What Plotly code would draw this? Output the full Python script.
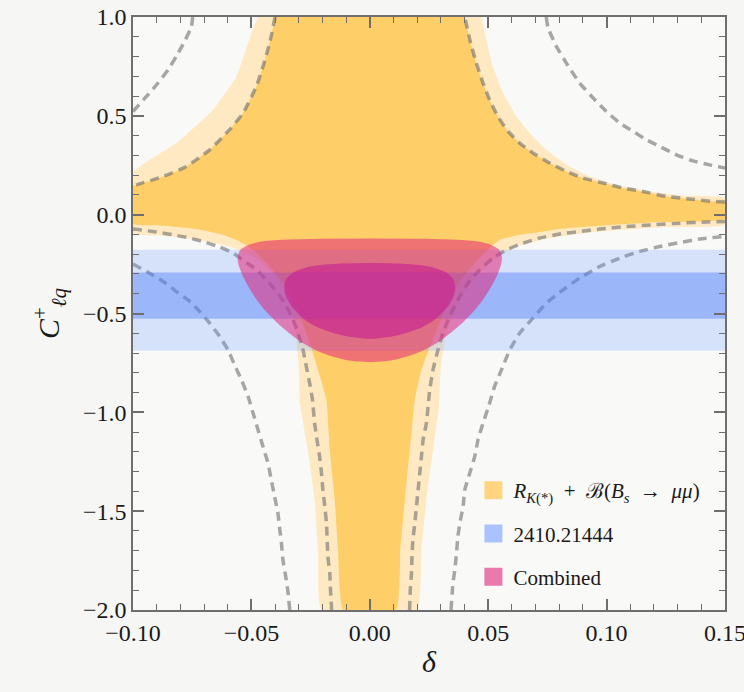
import plotly.graph_objects as go

X_RANGE = [-0.10, 0.15]
Y_RANGE = [-2.0, 1.0]
X_TICKS = [-0.10, -0.05, 0.00, 0.05, 0.10, 0.15]
Y_TICKS = [-2.0, -1.5, -1.0, -0.5, 0.0, 0.5, 1.0]

# ---- R_K(*) + B(Bs->mumu): dark (1 sigma) boundary curves ----
dark_ul_x = [-0.0400, -0.0423, -0.0451, -0.0479, -0.0535, -0.0592, -0.0676, -0.0774, -0.0873, -0.0986, -0.1000]
dark_ul_y = [1.000, 0.868, 0.750, 0.649, 0.514, 0.430, 0.328, 0.244, 0.193, 0.151, 0.146]
dark_ll_x = [-0.1000, -0.0873, -0.0732, -0.0620, -0.0549, -0.0480, -0.0423, -0.0370, -0.0324, -0.0280, -0.0240, -0.0210, -0.0183, -0.0169, -0.0148, -0.0134, -0.0112]
dark_ll_y = [-0.046, -0.056, -0.073, -0.102, -0.136, -0.190, -0.262, -0.340, -0.430, -0.560, -0.700, -0.820, -0.937, -1.189, -1.442, -1.695, -2.000]
dark_lr_x = [0.0111, 0.0129, 0.0148, 0.0169, 0.0190, 0.0215, 0.0250, 0.0290, 0.0335, 0.0385, 0.0440, 0.0500, 0.0549, 0.0620, 0.0689, 0.0800, 0.0971, 0.1200, 0.1500]
dark_lr_y = [-2.000, -1.695, -1.442, -1.189, -0.937, -0.800, -0.680, -0.560, -0.430, -0.330, -0.250, -0.175, -0.127, -0.105, -0.093, -0.072, -0.056, -0.038, -0.022]
dark_ur_x = [0.1500, 0.1449, 0.1351, 0.1253, 0.1154, 0.1069, 0.0985, 0.0900, 0.0830, 0.0760, 0.0689, 0.0633, 0.0584, 0.0541, 0.0506, 0.0478, 0.0450, 0.0426, 0.0401]
dark_ur_y = [0.064, 0.067, 0.079, 0.092, 0.117, 0.135, 0.160, 0.185, 0.219, 0.261, 0.312, 0.362, 0.421, 0.497, 0.581, 0.666, 0.767, 0.868, 1.000]

# ---- light (2 sigma) boundary curves ----
light_ul_x = [-0.0472, -0.0490, -0.0514, -0.0563, -0.0662, -0.0817, -0.1000]
light_ul_y = [1.000, 0.950, 0.868, 0.699, 0.531, 0.362, 0.212]
light_ll_x = [-0.1000, -0.0873, -0.0732, -0.0592, -0.0479, -0.0409, -0.0352, -0.0324, -0.0310, -0.0300, -0.0294, -0.0262, -0.0233, -0.0219, -0.0204]
light_ll_y = [-0.093, -0.107, -0.127, -0.161, -0.220, -0.296, -0.397, -0.515, -0.633, -0.768, -0.960, -1.189, -1.442, -1.695, -2.000]
light_lr_x = [0.0199, 0.0218, 0.0239, 0.0267, 0.0292, 0.0300, 0.0323, 0.0366, 0.0400, 0.0436, 0.0521, 0.0619, 0.0760, 0.0971, 0.1253, 0.1500]
light_lr_y = [-2.000, -1.695, -1.442, -1.189, -0.970, -0.768, -0.599, -0.465, -0.390, -0.329, -0.228, -0.161, -0.118, -0.085, -0.063, -0.051]
light_ur_x = [0.1500, 0.1323, 0.1182, 0.1041, 0.0929, 0.0830, 0.0746, 0.0675, 0.0619, 0.0563, 0.0520, 0.0492, 0.0471]
light_ur_y = [0.084, 0.097, 0.117, 0.151, 0.193, 0.253, 0.328, 0.413, 0.497, 0.615, 0.750, 0.885, 1.000]

# ---- dashed contours ----
dash_in_ll_x = [-0.1000, -0.0972, -0.0901, -0.0831, -0.0761, -0.0690, -0.0634, -0.0578, -0.0528, -0.0479, -0.0437, -0.0394, -0.0359, -0.0324, -0.0303, -0.0282, -0.0268, -0.0254, -0.0242, -0.0233, -0.0223, -0.0212, -0.0204, -0.0198, -0.0190, -0.0183, -0.0177, -0.0169, -0.0166, -0.0161]
dash_in_ll_y = [-0.073, -0.076, -0.088, -0.102, -0.118, -0.141, -0.164, -0.194, -0.237, -0.279, -0.329, -0.389, -0.447, -0.532, -0.599, -0.684, -0.768, -0.852, -0.937, -1.055, -1.139, -1.224, -1.308, -1.392, -1.477, -1.561, -1.730, -1.814, -1.898, -2.000]
dash_in_lr_x = [0.0168, 0.0171, 0.0176, 0.0178, 0.0182, 0.0190, 0.0197, 0.0204, 0.0211, 0.0218, 0.0225, 0.0239, 0.0246, 0.0253, 0.0267, 0.0288, 0.0309, 0.0337, 0.0372, 0.0415, 0.0464, 0.0520, 0.0577, 0.0647, 0.0717, 0.0802, 0.0886, 0.0971, 0.1084, 0.1196, 0.1309, 0.1421, 0.1500]
dash_in_lr_y = [-2.000, -1.898, -1.814, -1.730, -1.645, -1.561, -1.477, -1.392, -1.308, -1.224, -1.139, -1.055, -0.971, -0.886, -0.785, -0.684, -0.599, -0.515, -0.431, -0.346, -0.279, -0.220, -0.178, -0.144, -0.118, -0.098, -0.085, -0.073, -0.060, -0.051, -0.043, -0.037, -0.034]
dash_out_ul_x = [-0.1000, -0.0943, -0.0894, -0.0852, -0.0817, -0.0782, -0.0753, -0.0748]
dash_out_ul_y = [0.522, 0.598, 0.666, 0.733, 0.801, 0.877, 0.952, 1.000]
dash_out_ur_x = [0.0745, 0.0753, 0.0788, 0.0830, 0.0886, 0.0943, 0.0999, 0.1055, 0.1112, 0.1168, 0.1224, 0.1295, 0.1365, 0.1435, 0.1500]
dash_out_ur_y = [1.000, 0.944, 0.851, 0.767, 0.666, 0.590, 0.522, 0.464, 0.421, 0.379, 0.345, 0.303, 0.272, 0.252, 0.236]
dash_out_ll_x = [-0.1000, -0.0930, -0.0873, -0.0817, -0.0768, -0.0718, -0.0676, -0.0634, -0.0599, -0.0571, -0.0542, -0.0514, -0.0493, -0.0472, -0.0451, -0.0430, -0.0416, -0.0402, -0.0388, -0.0380, -0.0373, -0.0367, -0.0355, -0.0345, -0.0338]
dash_out_ll_y = [-0.250, -0.296, -0.338, -0.389, -0.431, -0.490, -0.549, -0.616, -0.684, -0.760, -0.836, -0.920, -1.004, -1.089, -1.173, -1.257, -1.342, -1.426, -1.510, -1.595, -1.662, -1.746, -1.831, -1.915, -2.000]
dash_out_lr_x = [0.0343, 0.0351, 0.0359, 0.0366, 0.0372, 0.0380, 0.0394, 0.0401, 0.0422, 0.0443, 0.0457, 0.0478, 0.0499, 0.0527, 0.0556, 0.0591, 0.0633, 0.0689, 0.0746, 0.0816, 0.0886, 0.0971, 0.1055, 0.1140, 0.1224, 0.1309, 0.1393, 0.1500]
dash_out_lr_y = [-2.000, -1.864, -1.797, -1.713, -1.629, -1.561, -1.477, -1.392, -1.308, -1.224, -1.139, -1.055, -0.980, -0.869, -0.785, -0.684, -0.599, -0.523, -0.447, -0.380, -0.321, -0.262, -0.220, -0.186, -0.161, -0.141, -0.123, -0.110]

# ---- 2410.21444 bands ----
blue_1s = [-0.527, -0.292]
blue_2s = [-0.689, -0.178]

# ---- Combined regions ----
comb_out_x = [0.000, 0.020, 0.035, 0.045, 0.051, 0.0548, 0.0558, 0.0555, 0.0540, 0.0515, 0.0478, 0.0430, 0.0370, 0.0295, 0.0200, 0.0100, 0.000,
              -0.0100, -0.0200, -0.0295, -0.0370, -0.0430, -0.0478, -0.0515, -0.0540, -0.0555, -0.0558, -0.0548, -0.051, -0.045, -0.035, -0.020]
comb_out_y = [-0.121, -0.122, -0.126, -0.135, -0.152, -0.180, -0.215, -0.250, -0.300, -0.360, -0.430, -0.500, -0.570, -0.640, -0.700, -0.735, -0.745,
              -0.735, -0.700, -0.640, -0.570, -0.500, -0.430, -0.360, -0.300, -0.250, -0.215, -0.180, -0.152, -0.135, -0.126, -0.122]
comb_in_x = [0.000, 0.012, 0.020, 0.027, 0.0320, 0.0350, 0.0360, 0.0358, 0.0340, 0.0315, 0.0270, 0.0210, 0.0120, 0.000,
             -0.0120, -0.0210, -0.0270, -0.0315, -0.0340, -0.0358, -0.0360, -0.0350, -0.0320, -0.027, -0.020, -0.012]
comb_in_y = [-0.245, -0.247, -0.254, -0.268, -0.290, -0.320, -0.355, -0.400, -0.445, -0.485, -0.535, -0.575, -0.610, -0.628,
             -0.610, -0.575, -0.535, -0.485, -0.445, -0.400, -0.355, -0.320, -0.290, -0.268, -0.254, -0.247]

legend_names = ["<i>R</i><sub><i>K</i>(*)</sub>  +  ℬ(<i>B</i><sub><i>s</i></sub>  →  <i>μμ</i>)",
                "2410.21444", "Combined"]
legend_colors = ["#ffd580", "#aac3ff", "#e97aab"]

ORANGE_DARK = "#fece68"
ORANGE_LIGHT = "#fee9c2"
DASH_COLOR = "rgba(115,115,115,0.62)"
PAPER = "#f6f6f5"
FONT = "Liberation Serif"

fig = go.Figure()

lx = light_ul_x + light_ll_x + light_lr_x + light_ur_x
ly = light_ul_y + light_ll_y + light_lr_y + light_ur_y
fig.add_trace(go.Scatter(x=lx, y=ly, fill="toself", fillcolor=ORANGE_LIGHT, mode="lines",
                         line=dict(width=0, shape="spline", smoothing=0.4), showlegend=False, hoverinfo="skip"))
dx = dark_ul_x + dark_ll_x + dark_lr_x + dark_ur_x
dy = dark_ul_y + dark_ll_y + dark_lr_y + dark_ur_y
fig.add_trace(go.Scatter(x=dx, y=dy, fill="toself", fillcolor=ORANGE_DARK, mode="lines",
                         line=dict(width=0, shape="spline", smoothing=0.4), showlegend=False, hoverinfo="skip"))

for cx, cy in [(dark_ul_x, dark_ul_y), (dark_ur_x, dark_ur_y), (dash_in_ll_x, dash_in_ll_y),
               (dash_in_lr_x, dash_in_lr_y), (dash_out_ul_x, dash_out_ul_y), (dash_out_ur_x, dash_out_ur_y),
               (dash_out_ll_x, dash_out_ll_y), (dash_out_lr_x, dash_out_lr_y)]:
    fig.add_trace(go.Scatter(x=cx, y=cy, mode="lines",
                             line=dict(color=DASH_COLOR, width=3.5, dash="9px,6px", shape="spline", smoothing=0.4),
                             showlegend=False, hoverinfo="skip"))

for band, col in [(blue_2s, "rgba(100,150,255,0.23)"), (blue_1s, "rgba(70,120,250,0.40)")]:
    fig.add_trace(go.Scatter(x=[X_RANGE[0], X_RANGE[1], X_RANGE[1], X_RANGE[0]],
                             y=[band[0], band[0], band[1], band[1]],
                             fill="toself", fillcolor=col, mode="lines", line=dict(width=0),
                             showlegend=False, hoverinfo="skip"))

fig.add_trace(go.Scatter(x=comb_out_x, y=comb_out_y, fill="toself", fillcolor="rgba(228,40,125,0.55)",
                         mode="lines", line=dict(width=0, shape="spline", smoothing=0.8),
                         showlegend=False, hoverinfo="skip"))
fig.add_trace(go.Scatter(x=comb_in_x, y=comb_in_y, fill="toself", fillcolor="rgba(200,35,146,0.65)",
                         mode="lines", line=dict(width=0, shape="spline", smoothing=0.8),
                         showlegend=False, hoverinfo="skip"))

for i, (name, col) in enumerate(zip(legend_names, legend_colors)):
    fig.add_trace(go.Scatter(x=[None], y=[None], mode="markers", name=name, legendgroup=str(i),
                             marker=dict(symbol="square", size=16, color=col, line=dict(color=col, width=2))))

axis_common = dict(showline=True, linecolor="#6e6e6e", linewidth=1.5, mirror="ticks",
                   ticks="inside", ticklen=11, tickwidth=1.5, tickcolor="#6e6e6e",
                   showgrid=False, zeroline=False, automargin=False, ticklabeloverflow="allow",
                   tickfont=dict(family=FONT, size=24, color="#1a1a1a"))

fig.update_layout(
    width=744, height=692,
    margin=dict(l=133, r=19, t=17, b=82),
    paper_bgcolor=PAPER, plot_bgcolor="#f9f9f8",
    xaxis=dict(range=[X_RANGE[0], X_RANGE[1] + 1e-6], tickmode="array", tickvals=X_TICKS, tickformat=".2f",
               minor=dict(dtick=0.01, tick0=0, ticks="inside", ticklen=6, tickwidth=1.2, tickcolor="#6e6e6e"),
               title=dict(text="<i>δ</i>", font=dict(family=FONT, size=30, color="#1a1a1a"), standoff=6),
               **axis_common),
    yaxis=dict(range=Y_RANGE, tickmode="array", tickvals=Y_TICKS, tickformat=".1f",
               minor=dict(dtick=0.1, tick0=0, ticks="inside", ticklen=6, tickwidth=1.2, tickcolor="#6e6e6e"),
               title=dict(text="<i>C</i><sup>+</sup><sub><i>ℓq</i></sub>",
                          font=dict(family=FONT, size=30, color="#1a1a1a"), standoff=14),
               **axis_common),
    legend=dict(x=0.575, y=0.236, xanchor="left", yanchor="top", bgcolor="rgba(0,0,0,0)",
                font=dict(family=FONT, size=21, color="#1a1a1a"), tracegroupgap=13),
    showlegend=True,
)

post = ("document.body.style.margin='0';document.body.style.padding='0';"
        "document.body.style.background='" + PAPER + "';document.body.style.overflow='hidden';")
fig.write_html("out.html", post_script=post, config={"displayModeBar": False})
